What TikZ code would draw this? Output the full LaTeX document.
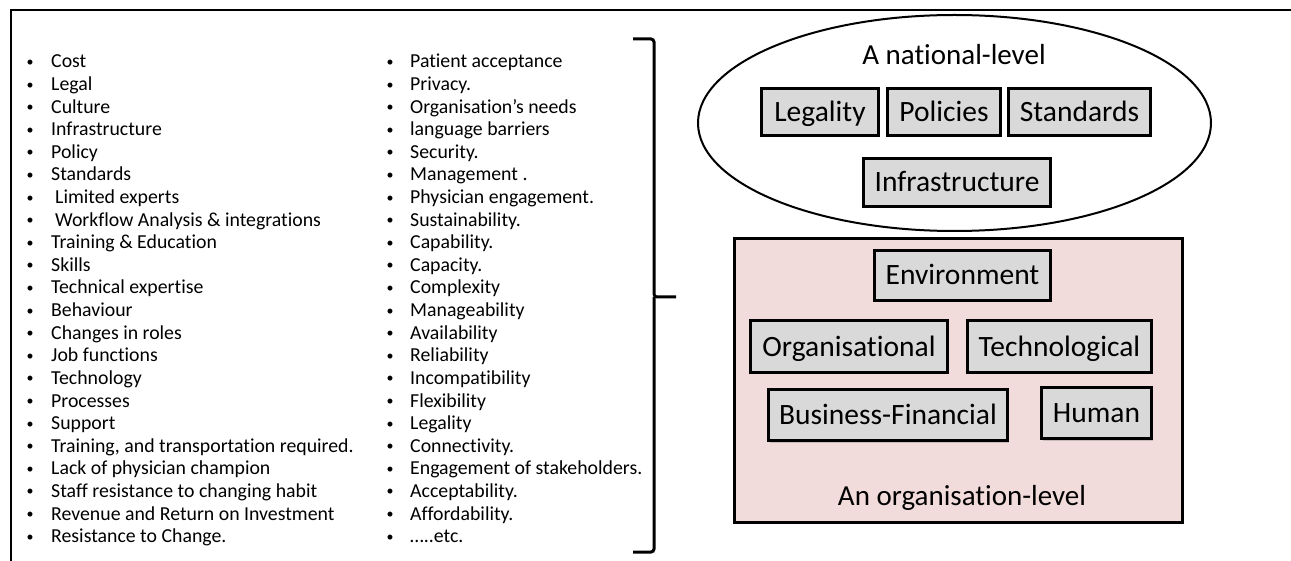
\documentclass[tikz,border=0pt]{standalone}
\usepackage{fontspec}
\setmainfont{Carlito}[Ligatures={NoCommon}]
\usetikzlibrary{shadows,shapes.geometric}
\definecolor{boxgray}{HTML}{D9D9D9}
\definecolor{orgpink}{HTML}{F2DCDB}
\begin{document}
\begin{tikzpicture}[x=1pt,y=-1pt,
  item/.style={anchor=base west, inner sep=0pt, font=\fontsize{19.8}{19.8}\selectfont},
  bul/.style={anchor=base, inner sep=0pt, font=\fontsize{14}{14}\selectfont},
  fbox/.style={draw=black, line width=3pt, fill=boxgray, inner sep=0pt,
    font=\fontsize{29.5}{29.5}\selectfont, text height=19pt, text depth=0pt,
    drop shadow={opacity=0.35, shadow xshift=1pt, shadow yshift=-2pt}},
  head/.style={inner sep=0pt, font=\fontsize{29}{29}\selectfont},
  frameline/.style={line width=2pt},
  brack/.style={line width=3pt, rounded corners=3pt},
]
\useasboundingbox (0,0) rectangle (1291,561);

% outer frame
\coordinate (fbl) at (11,562);
\coordinate (ftl) at (11,10);
\coordinate (ftr) at (1292,10);
\draw[frameline] (fbl) -- (ftl) -- (ftr);

% left column
\foreach \t [count=\i from 0] in {Cost, Legal, Culture, Infrastructure, Policy, Standards,
  {\hspace{4pt}Limited experts}, {\hspace{4pt}Workflow Analysis \& integrations},
  {Training \& Education}, Skills, Technical expertise, Behaviour, Changes in roles,
  Job functions, Technology, Processes, Support, {Training, and transportation required.},
  Lack of physician champion, Staff resistance to changing habit,
  Revenue and Return on Investment, Resistance to Change.}{
  \node[bul] (LB\i) at (30,{66.5+\i*22.6}) {•};
  \node[item] (L\i) at (51,{68+\i*22.6}) {\t};
}

% right column
\foreach \t [count=\i from 0] in {Patient acceptance, Privacy., Organisation’s needs,
  language barriers, Security., Management ., Physician engagement., Sustainability.,
  Capability., Capacity., Complexity, Manageability, Availability, Reliability,
  Incompatibility, Flexibility, Legality, Connectivity., Engagement of stakeholders.,
  Acceptability., Affordability., …..etc.}{
  \node[bul] (RB\i) at (390,{66.5+\i*22.6}) {•};
  \node[item] (R\i) at (410,{68+\i*22.6}) {\t};
}

% bracket
\coordinate (bt) at (633,39);
\coordinate (bm) at (654,297);
\coordinate (btip) at (676,297);
\coordinate (bb) at (633,552);
\draw[brack] (bt) -| (bm) -- (btip);
\draw[brack] (bm) |- (bb);

% national level
\node[draw, line width=2pt, shape=ellipse, minimum width=513pt, minimum height=216pt,
  inner sep=0pt] (nat) at (954.5,123) {};
\node[head] (natlab) at (954,55) {A national-level};
\node[fbox, minimum width=117pt, minimum height=47pt] (legal) at (820,112) {Legality};
\node[fbox, minimum width=113pt, minimum height=47pt] (pol) at (944,112) {Policies};
\node[fbox, minimum width=142pt, minimum height=47pt] (std) at (1079.5,112) {Standards};
\node[fbox, minimum width=187pt, minimum height=48pt] (infra) at (957,182.5) {Infrastructure};

% organisation level
\node[draw, line width=2.5pt, fill=orgpink, minimum width=448pt, minimum height=284pt,
  inner sep=0pt] (org) at (958.5,380.5) {};
\node[head] (orglab) at (962,498) {An organisation-level};
\node[fbox, minimum width=176pt, minimum height=50pt] (env) at (962.5,275.5) {Environment};
\node[fbox, minimum width=197pt, minimum height=52pt] (orgn) at (849,346.5) {Organisational};
\node[fbox, minimum width=184pt, minimum height=52pt] (tech) at (1059.5,346.5) {Technological};
\node[fbox, minimum width=239pt, minimum height=51pt] (bus) at (888,415) {Business-Financial};
\node[fbox, minimum width=110pt, minimum height=51pt] (hum) at (1096.5,413) {Human};
\end{tikzpicture}
\end{document}
